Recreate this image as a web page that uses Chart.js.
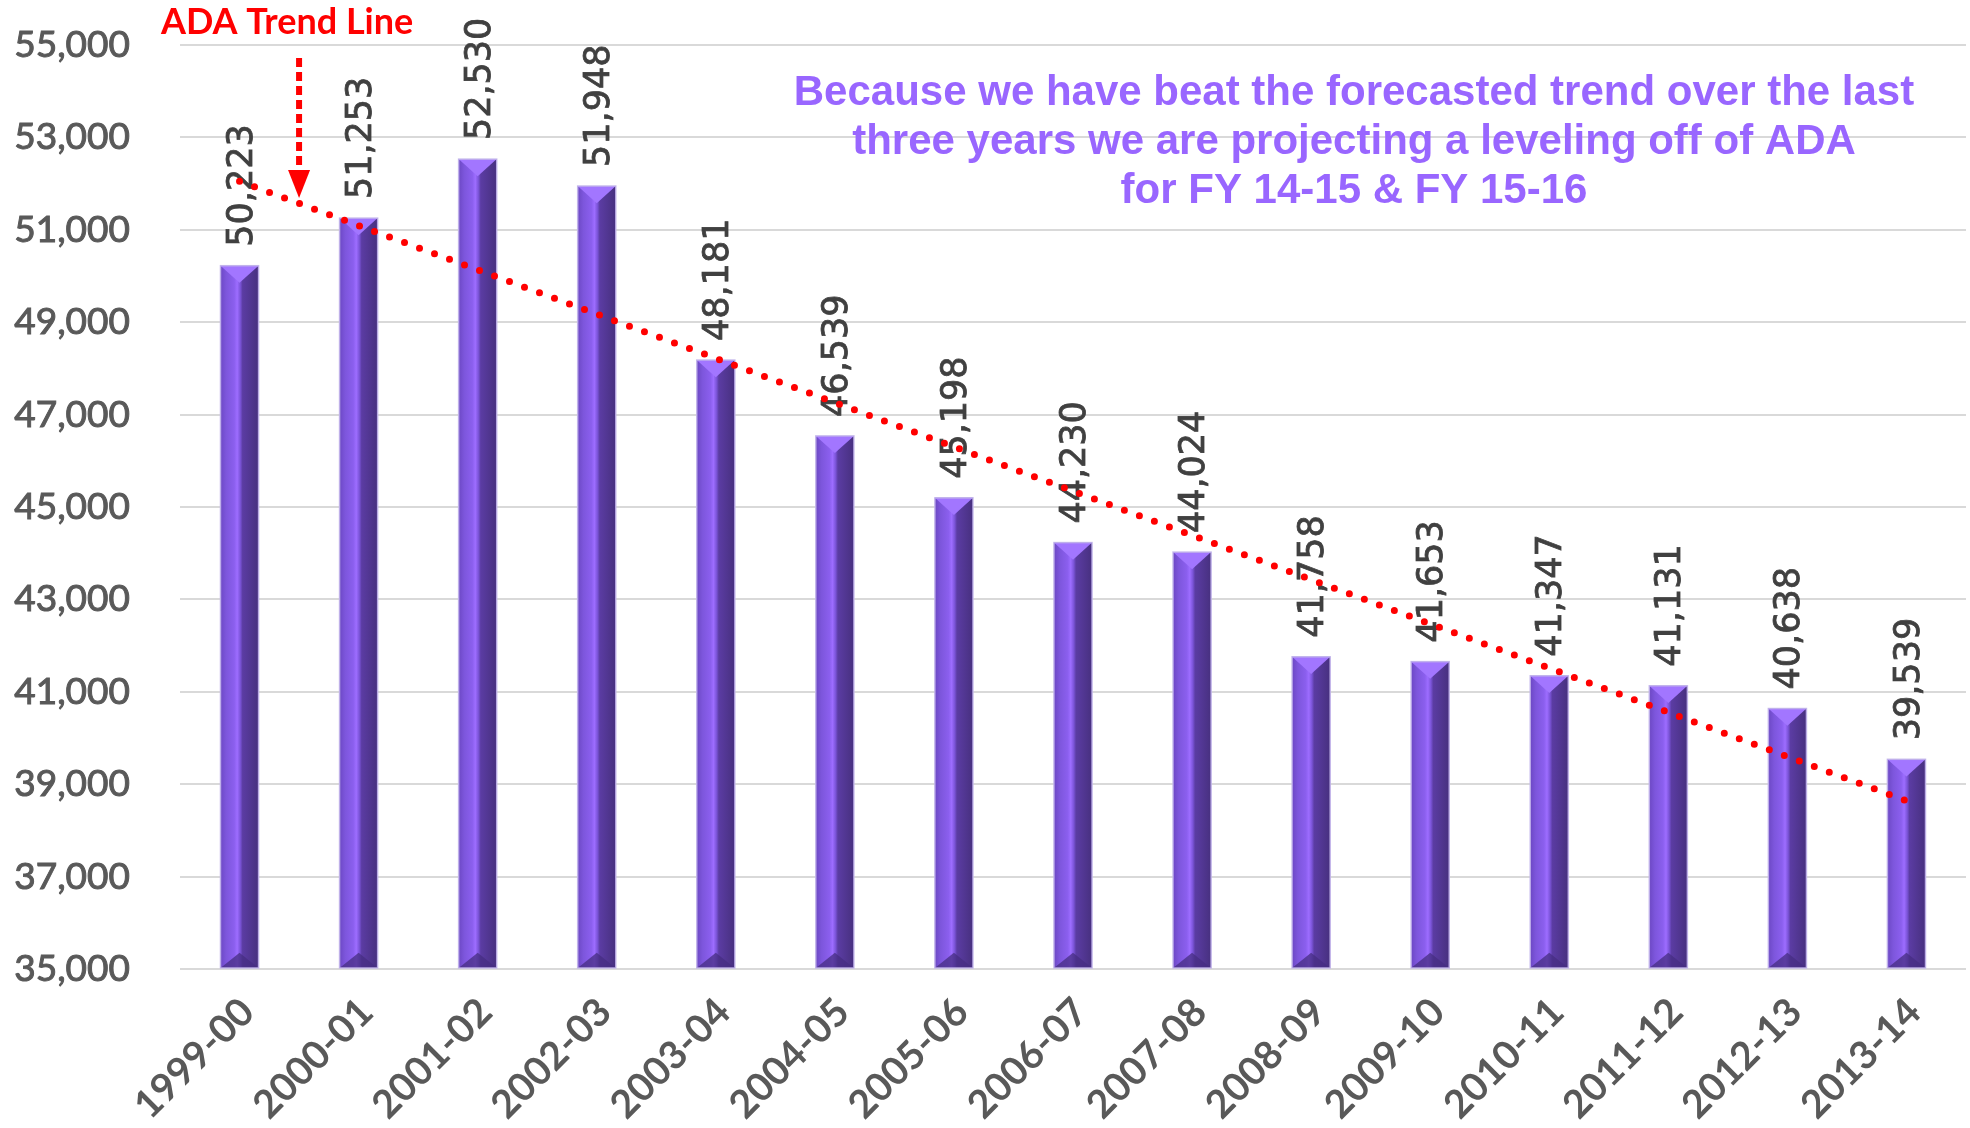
<!DOCTYPE html>
<html>
<head>
<meta charset="utf-8">
<script src="https://cdn.jsdelivr.net/npm/chart.js@4.4.1/dist/chart.umd.min.js"></script>
<style>
html, body { margin: 0; padding: 0; background: #fff; }
#wrap { width: 1970px; height: 1128px; }
</style>
</head>
<body>
<div id="wrap"><canvas id="adaChart" width="1970" height="1128"></canvas></div>
<script>
const years = ['1999-00', '2000-01', '2001-02', '2002-03', '2003-04', '2004-05', '2005-06', '2006-07',
    '2007-08', '2008-09', '2009-10', '2010-11', '2011-12', '2012-13', '2013-14'];
const adaValues = [50223, 51253, 52530, 51948, 48181, 46539, 45198, 44230, 44024, 41758, 41653, 41347, 41131, 40638, 39539];
// trend line ends (the gap in between is bridged)
const trendValues = [52050, null, null, null, null, null, null, null, null, null, null, null, null, null, 38640];
const yMin = 35000;
const yMax = 55000;
const yStep = 2000;
const arrowLabel = 'ADA Trend Line';
const noteLines = [
    'Because we have beat the forecasted trend over the last',
    'three years we are projecting a leveling off of ADA',
    'for FY 14-15 & FY 15-16'
];

// shading on the bars + the rotated value labels
const barDecor = {
    id: 'barDecor',
    afterDatasetDraw(chart, args) {
        if (args.index !== 0) return;
        const ctx = chart.ctx;
        args.meta.data.forEach(function(bar, i) {
            const p = bar.getProps(['x', 'y', 'base', 'width'], true);
            const l = p.x - p.width / 2, r = p.x + p.width / 2;
            const g = ctx.createLinearGradient(l, 0, r, 0);
            g.addColorStop(0, '#6c48c4');
            g.addColorStop(0.15, '#7d56dc');
            g.addColorStop(0.36, '#8b5fee');
            g.addColorStop(0.44, '#9d6dff');
            g.addColorStop(0.52, '#7b54d8');
            g.addColorStop(0.58, '#5b3ca3');
            g.addColorStop(1, '#47307f');
            ctx.save();
            ctx.fillStyle = g;
            ctx.fillRect(l, p.y, p.width, p.base - p.y);
            // top bevel
            ctx.fillStyle = '#a276ff';
            ctx.beginPath();
            ctx.moveTo(l, p.y);
            ctx.lineTo(r, p.y);
            ctx.lineTo(p.x, p.y + p.width * 0.45);
            ctx.closePath();
            ctx.fill();
            // bottom bevel
            ctx.fillStyle = 'rgba(70,45,130,0.75)';
            ctx.beginPath();
            ctx.moveTo(l, p.base);
            ctx.lineTo(p.x, p.base - p.width * 0.4);
            ctx.lineTo(r, p.base);
            ctx.closePath();
            ctx.fill();
            ctx.strokeStyle = 'rgba(195,182,235,0.9)';
            ctx.lineWidth = 1.5;
            ctx.strokeRect(l, p.y, p.width, p.base - p.y);
            // value label
            ctx.translate(p.x + 3, p.y - 19);
            ctx.rotate(-Math.PI / 2);
            ctx.font = '35px "DejaVu Sans"';
            ctx.fillStyle = '#404040';
            ctx.strokeStyle = '#404040';
            ctx.lineWidth = 0.8;
            ctx.textAlign = 'left';
            ctx.textBaseline = 'middle';
            const txt = adaValues[i].toLocaleString('en-US');
            ctx.fillText(txt, 0, 0);
            ctx.strokeText(txt, 0, 0);
            ctx.restore();
        });
    }
};

// red arrow callout and the purple note
const notes = {
    id: 'notes',
    afterDraw(chart) {
        const ctx = chart.ctx;
        const xs = chart.scales.x;
        const ax = (xs.getPixelForValue(0) + xs.getPixelForValue(1)) / 2;
        ctx.save();
        ctx.fillStyle = '#ff0000';
        ctx.font = 'bold 36px Lato';
        ctx.textAlign = 'left';
        ctx.textBaseline = 'middle';
        ctx.fillText(arrowLabel, 161, 22);

        ctx.strokeStyle = '#ff0000';
        ctx.lineWidth = 6;
        ctx.setLineDash([9, 5]);
        ctx.beginPath();
        ctx.moveTo(ax, 58);
        ctx.lineTo(ax, 172);
        ctx.stroke();
        ctx.setLineDash([]);
        ctx.beginPath();
        ctx.moveTo(ax - 11, 170);
        ctx.lineTo(ax + 11, 170);
        ctx.lineTo(ax, 198);
        ctx.closePath();
        ctx.fill();

        ctx.fillStyle = '#9966ff';
        ctx.font = 'bold 42px "Liberation Sans"';
        ctx.textAlign = 'center';
        noteLines.forEach(function(line, i) {
            ctx.fillText(line, 1354, 93 + i * 49);
        });
        ctx.restore();
    }
};

document.addEventListener('DOMContentLoaded', function() {
    const ctx = document.getElementById('adaChart').getContext('2d');
    new Chart(ctx, {
        type: 'bar',
        data: {
            labels: years,
            datasets: [{
                label: 'ADA',
                data: adaValues,
                base: yMin,
                backgroundColor: '#7d56dc',
                categoryPercentage: 1,
                barPercentage: 0.32,
                order: 1
            }, {
                type: 'line',
                label: 'Trend',
                data: trendValues,
                spanGaps: true,
                borderColor: '#ff0000',
                borderWidth: 7,
                borderDash: [0, 16],
                borderCapStyle: 'round',
                pointRadius: 0,
                fill: false,
                order: 0
            }]
        },
        options: {
            responsive: false,
            devicePixelRatio: 1,
            animation: false,
            layout: { padding: { top: 45, right: 4, left: 0, bottom: 0 } },
            plugins: {
                legend: { display: false },
                tooltip: { enabled: false }
            },
            scales: {
                x: {
                    grid: { display: false },
                    border: { display: false },
                    ticks: {
                        autoSkip: false,
                        maxRotation: 45,
                        minRotation: 45,
                        padding: 12,
                        labelOffset: 8,
                        color: '#595959',
                        font: { family: 'Lato', size: 39, weight: 'bold' }
                    },
                    afterFit: function(scale) { scale.height = 159; }
                },
                y: {
                    min: yMin,
                    max: yMax,
                    grid: { color: '#d9d9d9', lineWidth: 2, drawTicks: false },
                    border: { display: false },
                    ticks: {
                        stepSize: yStep,
                        padding: 50,
                        color: '#595959',
                        textStrokeColor: '#595959',
                        textStrokeWidth: 1,
                        font: { family: 'Lato', size: 37 },
                        callback: function(v) { return v.toLocaleString('en-US'); }
                    },
                    afterFit: function(scale) {
                        scale.width = 180;
                        scale.paddingTop = 0;
                        scale.paddingBottom = 0;
                    }
                }
            }
        },
        plugins: [barDecor, notes]
    });
});
</script>
</body>
</html>
